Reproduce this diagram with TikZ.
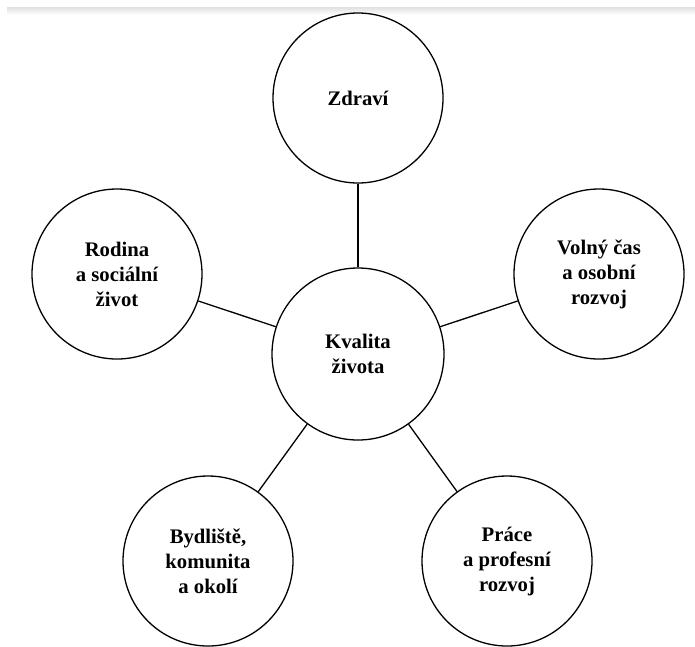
\documentclass[tikz,border=0pt]{standalone}
\usepackage{fontspec}
\setmainfont{Liberation Serif}
\begin{document}
\begin{tikzpicture}[x=1pt,y=-1pt,
  bubble/.style={circle,draw=black,line width=1.3pt,minimum size=170pt,inner sep=0pt,
    align=center,font=\fontsize{20.7}{25}\selectfont\bfseries},
  link/.style={draw=black,line width=1.3pt}]
\useasboundingbox (0,0) rectangle (695,646);
\fill[top color=black!12,bottom color=white,draw=none] (7,7) rectangle (695,15);
\node[bubble] (zdravi) at (358,98) {Zdraví};
\node[bubble] (rodina) at (117,274) {Rodina\\a sociální\\život};
\node[bubble] (volny) at (599,274) {Volný čas\\a osobní\\rozvoj};
\node[bubble,minimum size=172pt] (kvalita) at (358,354) {Kvalita\\života};
\node[bubble] (bydliste) at (208,561) {Bydliště,\\komunita\\a okolí};
\node[bubble] (prace) at (507,561) {Práce\\a profesní\\rozvoj};
\draw[link] (zdravi) -- (kvalita);
\draw[link] (rodina) -- (kvalita);
\draw[link] (volny) -- (kvalita);
\draw[link] (bydliste) -- (kvalita);
\draw[link] (prace) -- (kvalita);
\end{tikzpicture}
\end{document}
